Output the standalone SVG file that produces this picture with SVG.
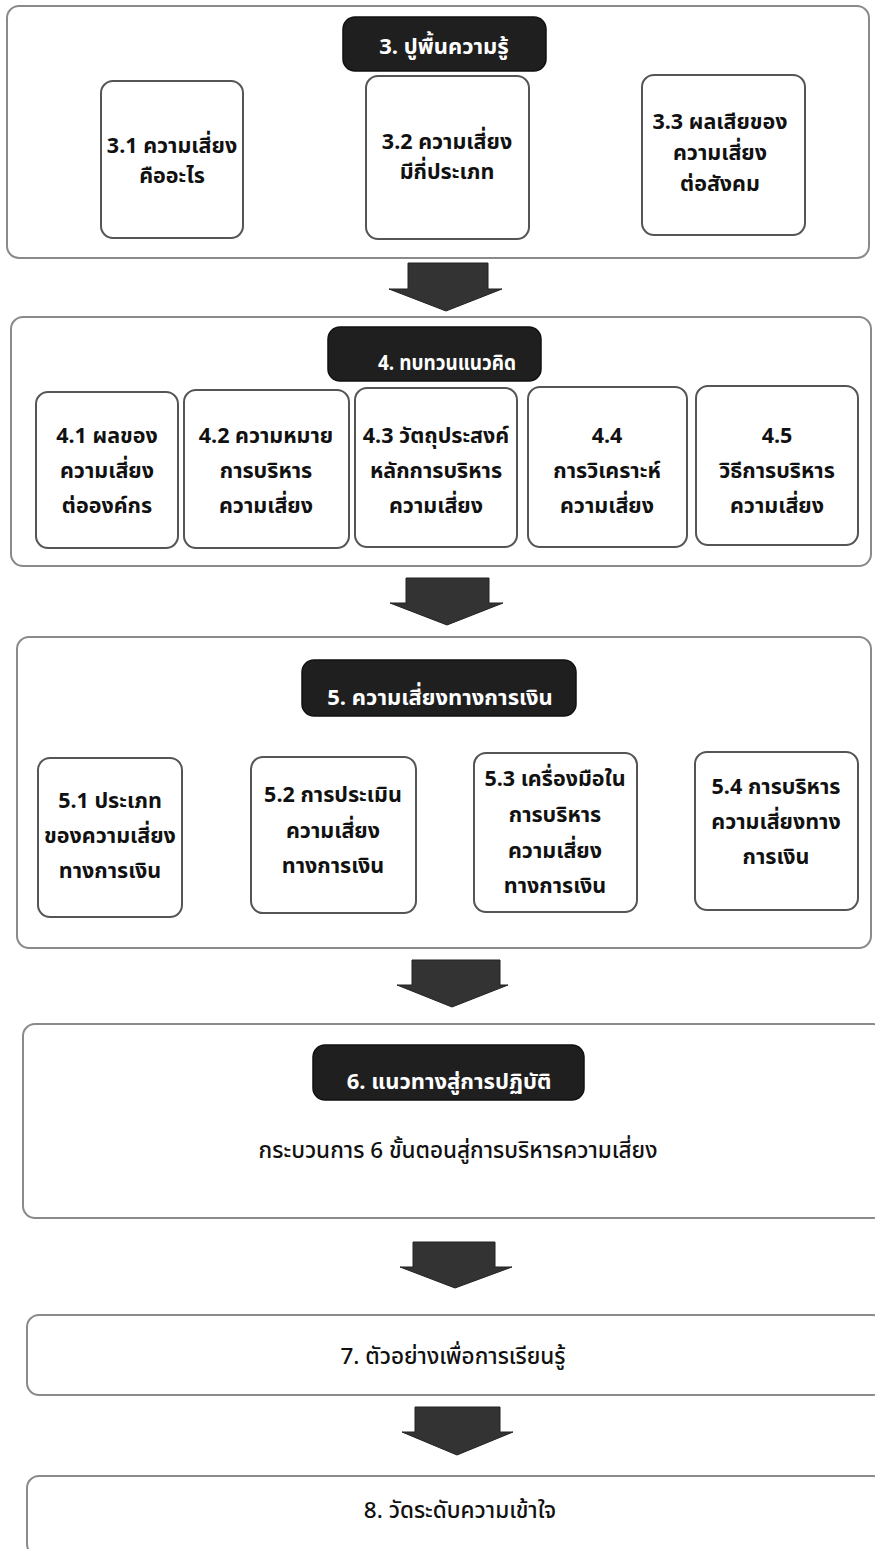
<svg xmlns="http://www.w3.org/2000/svg" width="875" height="1549" viewBox="0 0 875 1549">
<style>
.sec{fill:#fff;stroke:#8a8a8a;stroke-width:2}
.box{fill:#fff;stroke:#555;stroke-width:2}
.hdr{fill:#1f1f1f;stroke:#111;stroke-width:1.5}
.arw{fill:#333;stroke:#222;stroke-width:1}
text{font-family:"Noto Sans Thai","Noto Sans","Liberation Sans",sans-serif;text-anchor:middle;fill:#111}
.ht{fill:#fff;font-size:22px;font-weight:bold}
.bt{font-size:21.5px;font-weight:bold}
.pt{font-size:22.5px;font-weight:500}
</style>
<rect width="875" height="1549" fill="#fff"/>
<g id="connectors">
<path class="arw" d="M408,263 H488 V289 H502 L446,311 L389,289 H408 Z"/>
<path class="arw" d="M406,578 H489 V603 H503 L447,625 L390,603 H406 Z"/>
<path class="arw" d="M412,960 H500 V985 H508 L452,1007 L397,985 H412 Z"/>
<path class="arw" d="M413,1242 H495 V1267 H512 L455,1288 L400,1267 H413 Z"/>
<path class="arw" d="M415,1407 H500 V1432 H513 L457,1455 L402,1432 H415 Z"/>
</g>
<g id="sec3">
<rect class="sec" x="7" y="6" width="862" height="252" rx="12"/>
<g id="h3"><rect class="hdr" x="343" y="17" width="203" height="54" rx="12"/><text class="ht" x="444" y="54">3. ปูพื้นความรู้</text></g>
<g id="n31"><rect class="box" x="101" y="81" width="142" height="157" rx="12"/><text class="bt" x="172" y="153">3.1 ความเสี่ยง</text><text class="bt" x="172" y="183">คืออะไร</text></g>
<g id="n32"><rect class="box" x="366" y="76" width="163" height="163" rx="12"/><text class="bt" x="447" y="149">3.2 ความเสี่ยง</text><text class="bt" x="447" y="179">มีกี่ประเภท</text></g>
<g id="n33"><rect class="box" x="642" y="75" width="163" height="160" rx="12"/><text class="bt" x="720" y="129">3.3 ผลเสียของ</text><text class="bt" x="720" y="160">ความเสี่ยง</text><text class="bt" x="720" y="191">ต่อสังคม</text></g>
</g>
<g id="sec4">
<rect class="sec" x="11" y="317" width="860" height="249" rx="12"/>
<g id="h4"><rect class="hdr" x="328" y="327" width="213" height="54" rx="12"/><text class="ht" x="447" y="370" textLength="138" lengthAdjust="spacingAndGlyphs">4. ทบทวนแนวคิด</text></g>
<g id="n41"><rect class="box" x="36" y="392" width="142" height="156" rx="12"/><text class="bt" x="107" y="443">4.1 ผลของ</text><text class="bt" x="107" y="478">ความเสี่ยง</text><text class="bt" x="107" y="513">ต่อองค์กร</text></g>
<g id="n42"><rect class="box" x="184" y="390" width="165" height="158" rx="12"/><text class="bt" x="266" y="443">4.2 ความหมาย</text><text class="bt" x="266" y="478">การบริหาร</text><text class="bt" x="266" y="513">ความเสี่ยง</text></g>
<g id="n43"><rect class="box" x="355" y="388" width="162" height="159" rx="12"/><text class="bt" x="436" y="443">4.3 วัตถุประสงค์</text><text class="bt" x="436" y="478">หลักการบริหาร</text><text class="bt" x="436" y="513">ความเสี่ยง</text></g>
<g id="n44"><rect class="box" x="528" y="387" width="159" height="160" rx="12"/><text class="bt" x="607" y="443">4.4</text><text class="bt" x="607" y="478">การวิเคราะห์</text><text class="bt" x="607" y="513">ความเสี่ยง</text></g>
<g id="n45"><rect class="box" x="696" y="386" width="162" height="159" rx="12"/><text class="bt" x="777" y="443">4.5</text><text class="bt" x="777" y="478">วิธีการบริหาร</text><text class="bt" x="777" y="513">ความเสี่ยง</text></g>
</g>
<g id="sec5">
<rect class="sec" x="17" y="637" width="854" height="311" rx="12"/>
<g id="h5"><rect class="hdr" x="302" y="660" width="274" height="56" rx="12"/><text class="ht" x="440" y="705">5. ความเสี่ยงทางการเงิน</text></g>
<g id="n51"><rect class="box" x="38" y="758" width="144" height="159" rx="12"/><text class="bt" x="110" y="808">5.1 ประเภท</text><text class="bt" x="110" y="843">ของความเสี่ยง</text><text class="bt" x="110" y="878">ทางการเงิน</text></g>
<g id="n52"><rect class="box" x="251" y="757" width="165" height="156" rx="12"/><text class="bt" x="333" y="802">5.2 การประเมิน</text><text class="bt" x="333" y="838">ความเสี่ยง</text><text class="bt" x="333" y="873">ทางการเงิน</text></g>
<g id="n53"><rect class="box" x="474" y="753" width="163" height="159" rx="12"/><text class="bt" x="555" y="786">5.3 เครื่องมือใน</text><text class="bt" x="555" y="822">การบริหาร</text><text class="bt" x="555" y="858">ความเสี่ยง</text><text class="bt" x="555" y="893">ทางการเงิน</text></g>
<g id="n54"><rect class="box" x="695" y="752" width="163" height="158" rx="12"/><text class="bt" x="776" y="794">5.4 การบริหาร</text><text class="bt" x="776" y="829">ความเสี่ยงทาง</text><text class="bt" x="776" y="864">การเงิน</text></g>
</g>
<g id="sec6">
<rect class="sec" x="23" y="1024" width="862" height="194" rx="12"/>
<g id="h6"><rect class="hdr" x="313" y="1045" width="271" height="55" rx="12"/><text class="ht" x="449" y="1089">6. แนวทางสู่การปฏิบัติ</text></g>
<text class="pt" x="458" y="1158">กระบวนการ 6 ขั้นตอนสู่การบริหารความเสี่ยง</text>
</g>
<g id="sec7">
<rect class="sec" x="27" y="1315" width="858" height="80" rx="12"/>
<text class="pt" x="453" y="1364">7. ตัวอย่างเพื่อการเรียนรู้</text>
</g>
<g id="sec8">
<rect class="sec" x="27" y="1476" width="858" height="80" rx="12"/>
<text class="pt" x="460" y="1518">8. วัดระดับความเข้าใจ</text>
</g>
</svg>
